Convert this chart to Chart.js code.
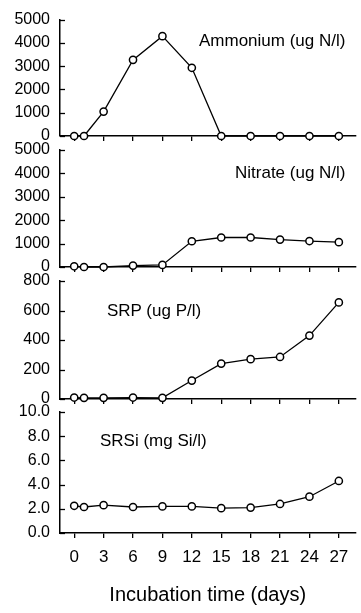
<!DOCTYPE html>
<html>
<head>
<meta charset="utf-8">
<script src="https://cdn.jsdelivr.net/npm/chart.js@4.4.1/dist/chart.umd.min.js"></script>
<style>
  html, body { margin: 0; padding: 0; background: #fff; }
  #wrap { position: relative; width: 361px; height: 613px; overflow: hidden; background: #fff; }
  canvas { position: absolute; left: 0; top: 0; }
  .lbl { position: absolute; font-family: 'Liberation Sans', Arial, sans-serif; font-size: 17px; line-height: 17px; color: #000; white-space: nowrap; }
</style>
</head>
<body>
<div id="wrap">
  <canvas id="c1" width="361" height="613"></canvas>
  <canvas id="c2" width="361" height="613"></canvas>
  <canvas id="c3" width="361" height="613"></canvas>
  <canvas id="c4" width="361" height="613"></canvas>
  <div class="lbl" style="left:199px; top:32px;">Ammonium (ug N/l)</div>
  <div class="lbl" style="left:235px; top:164px;">Nitrate (ug N/l)</div>
  <div class="lbl" style="left:107px; top:302px;">SRP (ug P/l)</div>
  <div class="lbl" style="left:100px; top:432px;">SRSi (mg Si/l)</div>
</div>
<script>
// ---- data ----
const days = [0, 1, 3, 6, 9, 12, 15, 18, 21, 24, 27];
const xTickValues = [0, 3, 6, 9, 12, 15, 18, 21, 24, 27];
const ammonium = [0, 0, 1050, 3270, 4290, 2930, 0, 0, 0, 0, 0];
const nitrate = [30, 0, 0, 60, 90, 1100, 1260, 1260, 1170, 1110, 1060];
const srp = [10, 8, 8, 10, 8, 125, 240, 270, 285, 430, 655];
const srsi = [2.25, 2.15, 2.3, 2.15, 2.2, 2.2, 2.05, 2.1, 2.4, 3.0, 4.3];
const ammoniumTicks = [0, 1000, 2000, 3000, 4000, 5000];
const nitrateTicks = [0, 1000, 2000, 3000, 4000, 5000];
const srpTicks = [0, 200, 400, 600, 800];
const srsiTicks = [0, 2, 4, 6, 8, 10];
const xTitle = 'Incubation time (days)';

Chart.defaults.font.family = "'Liberation Sans', Arial, sans-serif";
Chart.defaults.color = '#000';

const inwardTicks = {
  id: 'inwardTicks',
  afterDraw(chart) {
    const y = chart.scales.y;
    const ctx = chart.ctx;
    const left = chart.chartArea.left;
    ctx.save();
    ctx.strokeStyle = '#000';
    ctx.lineWidth = 1.3;
    y.ticks.forEach(t => {
      const py = Math.round(y.getPixelForValue(t.value)) + 0.5;
      ctx.beginPath();
      ctx.moveTo(left, py);
      ctx.lineTo(left + 5, py);
      ctx.stroke();
    });
    ctx.restore();
  }
};

function makePanel(id, values, yTicks, top, bottom, isLast, fmt) {
  const xH = isLast ? 613 - bottom : 10;
  const padBottom = isLast ? 0 : 613 - bottom - xH;
  new Chart(document.getElementById(id), {
    type: 'line',
    data: {
      datasets: [{
        data: days.map((d, i) => ({ x: d, y: values[i] })),
        borderColor: '#000',
        borderWidth: 1.3,
        pointRadius: 3.6,
        pointBorderWidth: 1.5,
        pointBackgroundColor: '#fff',
        pointBorderColor: '#000',
        tension: 0,
        clip: false
      }]
    },
    options: {
      responsive: false,
      animation: false,
      events: [],
      layout: { padding: { left: 0, right: 0, top: top, bottom: padBottom } },
      plugins: { legend: { display: false }, tooltip: { enabled: false } },
      scales: {
        x: {
          type: 'linear',
          min: -1.45,
          max: 28.7,
          afterBuildTicks: s => { s.ticks = xTickValues.map(v => ({ value: v })); },
          afterFit: s => { s.height = xH; },
          border: { display: true, color: '#000', width: 1.5 },
          grid: { display: true, drawOnChartArea: false, drawTicks: true, tickLength: 5, color: '#000', lineWidth: 1.3 },
          ticks: {
            padding: 9,
            maxRotation: 0,
            autoSkip: false,
            font: { size: 17 },
            callback: v => isLast ? String(v) : ''
          },
          title: {
            display: isLast,
            text: xTitle,
            font: { size: 20 },
            padding: { top: 0, bottom: 6 }
          }
        },
        y: {
          min: yTicks[0],
          max: yTicks[yTicks.length - 1],
          afterBuildTicks: s => { s.ticks = yTicks.map(v => ({ value: v })); },
          afterFit: s => { s.width = 60; },
          border: { display: true, color: '#000', width: 1.5 },
          grid: { display: false, drawTicks: false },
          ticks: {
            padding: 10,
            autoSkip: false,
            font: { size: 16 },
            callback: v => fmt(v)
          }
        }
      }
    },
    plugins: [inwardTicks]
  });
}

makePanel('c1', ammonium, ammoniumTicks, 16, 136, false, v => String(v));
makePanel('c2', nitrate, nitrateTicks, 150, 267, false, v => String(v));
makePanel('c3', srp, srpTicks, 281, 399, false, v => String(v));
makePanel('c4', srsi, srsiTicks, 412, 533, true, v => v.toFixed(1));
</script>
</body>
</html>
